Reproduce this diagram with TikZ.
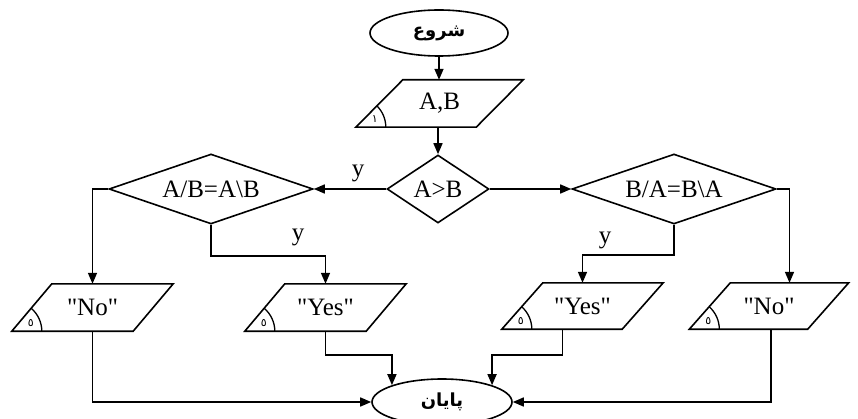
\documentclass[tikz,border=0pt]{standalone}
\usepackage{fontspec}
\setmainfont{Liberation Serif}[Ligatures=TeXOff]
\newfontfamily\fa[Script=Arabic]{DejaVu Sans}
\TeXXeTstate=1
\usetikzlibrary{shapes.geometric,arrows.meta}
\tikzset{
 base/.style={line width=1.6pt},
 term/.style={ellipse, draw, line width=1.6pt, minimum width=138pt, minimum height=46pt, inner sep=0pt, font=\fa\bfseries\fontsize{18}{22}\selectfont},
 dec/.style={diamond, draw, line width=1.6pt, inner sep=0pt, font=\fontsize{25}{29}\selectfont},
 iobox/.style={rectangle, inner sep=0pt, minimum height=47pt, font=\fontsize{25}{29}\selectfont},
 conn/.style={line width=1.6pt, -{Triangle[length=11pt,width=9pt]}},
 lab/.style={font=\fontsize{25}{29}\selectfont, inner sep=0pt},
 digitlab/.style={font=\fa\fontsize{11}{12}\selectfont, inner sep=0pt}
}
\newcommand\drawio[4]{%
 \draw[base] ([xshift=-0.5*#2pt]#1.south west) -- ([xshift=-0.5*#2pt]#1.south east) -- ([xshift=0.5*#2pt]#1.north east) -- ([xshift=0.5*#2pt]#1.north west) -- cycle;
 \draw[line width=1.3pt] ([xshift=-0.5*#2pt+30pt]#1.south west) arc[start angle=0,end angle=#3,radius=30pt];
 \node[digitlab] at ([xshift=-0.5*#2pt+19pt, yshift=8pt]#1.south west) {\beginR #4\endR};
}
\begin{document}
\begin{tikzpicture}[x=1pt,y=-1pt]
\useasboundingbox (0,0) rectangle (858,419);
\node[term] (start) at (439,33) {\beginR شروع\endR};
\node[iobox, minimum width=120pt] (in) at (439.5,103.5) {A,B};
\node[dec, aspect=1.5, minimum width=102pt, minimum height=68pt] (cmp) at (438,189) {A>B};
\node[dec, aspect=2.9, minimum width=204pt, minimum height=70pt] (dl) at (211,189) {A/B=A\textbackslash B};
\node[dec, aspect=2.9, minimum width=204pt, minimum height=70pt] (dr) at (674,189) {B/A=B\textbackslash A};
\node[iobox, minimum width=121pt] (noL) at (92.5,307.5) {"No"};
\node[iobox, minimum width=121pt] (yesL) at (325.5,307.5) {"Yes"};
\node[iobox, minimum width=120pt, minimum height=46pt] (yesR) at (582.5,306) {"Yes"};
\node[iobox, minimum width=118pt, minimum height=46pt] (noR) at (769,306) {"No"};
\node[term, minimum width=140pt] (end) at (442,402) {\beginR پایان\endR};

\drawio{in}{47}{45}{١}
\drawio{noL}{40}{49.6}{٥}
\drawio{yesL}{40}{49.6}{٥}
\drawio{yesR}{41}{48.4}{٥}
\drawio{noR}{41}{48.4}{٥}

\draw[conn] (start.south) -- (start.south |- in.north);
\draw[conn] (cmp.north |- in.south) -- (cmp.north);
\draw[conn] (cmp.west) -- (dl.east);
\draw[conn] (cmp.east) -- (dr.west);
\draw[conn] (dl.west) -| (noL.north);
\draw[conn] (dl.south) -- ++(0,31) -| (yesL.north);
\draw[conn] (dr.east) -| ([xshift=20.5pt]noR.north);
\draw[conn] (dr.south) -- ++(0,30) -| (yesR.north);
\draw[conn] (noL.south) |- (end.west);
\draw[conn] (yesL.south) -- ++(0,24) -| (end.north west);
\draw[conn] ([xshift=-20pt]yesR.south) -- ++(0,26) -| (end.north east);
\draw[conn] ([xshift=2pt]noR.south) |- (end.east);

\node[lab] (y1) at (358,173) {y};
\node[lab] (y2) at (298,237) {y};
\node[lab] (y3) at (605,240) {y};
\end{tikzpicture}
\end{document}
